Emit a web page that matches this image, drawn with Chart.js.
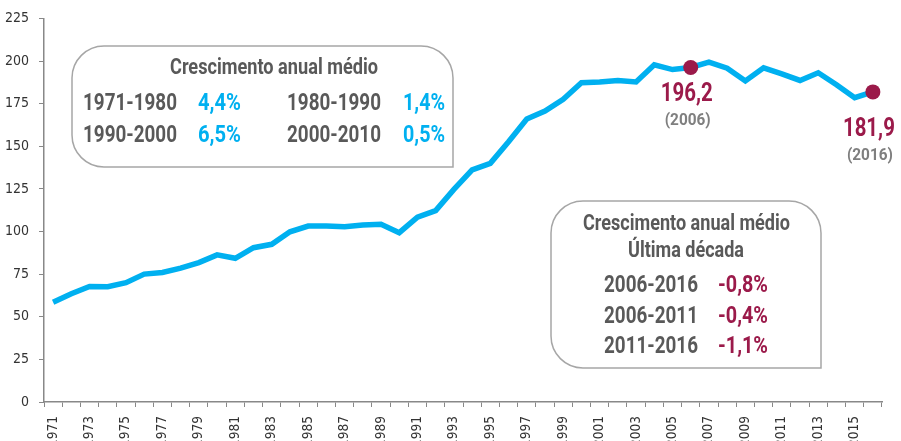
<!DOCTYPE html>
<html>
<head>
<meta charset="utf-8">
<script src="https://cdn.jsdelivr.net/npm/chart.js@4.4.1/dist/chart.umd.min.js"></script>
<style>
  html, body { margin: 0; padding: 0; background: #fff; }
  #wrap { width: 901px; height: 441px; }
</style>
</head>
<body>
<div id="wrap"><canvas id="grafico"></canvas></div>
<script>
const anos = [
  "1971", "1972", "1973", "1974", "1975", "1976", "1977", "1978", "1979", "1980",
  "1981", "1982", "1983", "1984", "1985", "1986", "1987", "1988", "1989", "1990",
  "1991", "1992", "1993", "1994", "1995", "1996", "1997", "1998", "1999", "2000",
  "2001", "2002", "2003", "2004", "2005", "2006", "2007", "2008", "2009", "2010",
  "2011", "2012", "2013", "2014", "2015", "2016",
];
const valores = [
  58.5, 63.5, 67.8, 67.6, 70.0, 75.0, 76.0, 78.5, 81.8, 86.3,
  84.3, 90.5, 92.5, 99.8, 103.2, 103.2, 102.8, 103.8, 104.2, 99.3,
  108.4, 112.3, 124.7, 136.2, 140.0, 152.7, 166.0, 170.6, 177.6, 187.3,
  187.7, 188.6, 187.7, 197.8, 195.0, 196.2, 199.3, 195.8, 188.3, 196.0,
  192.5, 188.6, 193.1, 186.1, 178.5, 181.9,
];
const destaques = ["2006", "2016"];

// caixa 1: crescimento por década
const decadas = ["1971-1980", "1980-1990", "1990-2000", "2000-2010"];
const taxasDecada = ["4,4%", "1,4%", "6,5%", "0,5%"];
// caixa 2: última década
const periodos = ["2006-2016", "2006-2011", "2011-2016"];
const taxasPeriodo = ["-0,8%", "-0,4%", "-1,1%"];

const AZUL = "#00b0f0";
const VINHO = "#9b1a4a";
const CINZA = "#595959";
const FONTE = "Roboto, sans-serif";
const FONTE_EIXO = '"DejaVu Sans Condensed", sans-serif';

// cantos arredondados menos o inferior direito
function caixa(ctx, x, y, w, h, r) {
  ctx.beginPath();
  ctx.moveTo(x + r, y);
  ctx.lineTo(x + w - r, y);
  ctx.arcTo(x + w, y, x + w, y + r, r);
  ctx.lineTo(x + w, y + h);
  ctx.lineTo(x + r, y + h);
  ctx.arcTo(x, y + h, x, y + h - r, r);
  ctx.lineTo(x, y + r);
  ctx.arcTo(x, y, x + r, y, r);
  ctx.closePath();
  ctx.fillStyle = "#fff";
  ctx.fill();
  ctx.strokeStyle = "#a6a6a6";
  ctx.lineWidth = 1.5;
  ctx.stroke();
}

// texto condensado: estica/encolhe na horizontal até a largura pedida
function texto(ctx, t, x, y, cor, tam, largura, centro) {
  ctx.save();
  ctx.font = `bold ${tam}px ${FONTE}`;
  ctx.fillStyle = cor;
  ctx.textAlign = "left";
  ctx.textBaseline = "alphabetic";
  const f = largura / ctx.measureText(t).width;
  ctx.translate(centro ? x - largura / 2 : x, y);
  ctx.scale(f, 1);
  ctx.fillText(t, 0, 0);
  ctx.restore();
}

const anotacoes = {
  id: "anotacoes",
  afterDatasetsDraw(chart) {
    const ctx = chart.ctx;
    const sx = chart.scales.x;
    const sy = chart.scales.y;

    // caixa superior esquerda
    caixa(ctx, 72, 46, 381, 121, 32);
    texto(ctx, "Crescimento anual médio", 274, 74, CINZA, 22, 208, true);
    const linhas1 = [110, 142];
    decadas.forEach((d, i) => {
      const y = linhas1[Math.floor(i / 2)];
      const col = i % 2;
      texto(ctx, d, col ? 287 : 83, y, CINZA, 23, 94);
      texto(ctx, taxasDecada[i], col ? 403 : 198, y, AZUL, 23, col ? 42 : 43);
    });

    // caixa inferior direita
    caixa(ctx, 551, 201, 270, 167, 32);
    texto(ctx, "Crescimento anual médio", 686.5, 230, CINZA, 22, 207, true);
    texto(ctx, "Última década", 686, 257, CINZA, 22, 116, true);
    periodos.forEach((p, i) => {
      const y = 292 + i * 30.5;
      texto(ctx, p, 604, y, CINZA, 23, 94);
      texto(ctx, taxasPeriodo[i], 718, y, VINHO, 23, 50);
    });

    // rótulos dos pontos destacados
    destaques.forEach((ano, k) => {
      const i = anos.indexOf(ano);
      const x = sx.getPixelForValue(i);
      const y = sy.getPixelForValue(valores[i]);
      const dy = k === 0 ? 33 : 44;
      texto(ctx, valores[i].toFixed(1).replace(".", ","), x - 4, y + dy, VINHO, 26, 52, true);
      texto(ctx, "(" + ano + ")", x - 3, y + dy + 24, "#7f7f7f", 17, 46, true);
    });
  },
};

const ctx = document.getElementById("grafico").getContext("2d");

new Chart(ctx, {
  type: "line",
  data: {
    labels: anos,
    datasets: [
      {
        data: valores,
        borderColor: AZUL,
        borderWidth: 5.5,
        pointRadius: (c) => (destaques.includes(anos[c.dataIndex]) ? 7.5 : 0),
        pointBackgroundColor: VINHO,
        pointBorderWidth: 0,
        tension: 0,
      },
    ],
  },
  options: {
    responsive: true,
    maintainAspectRatio: false,
    animation: false,
    layout: { padding: { top: 10, right: 19, left: 0, bottom: 0 } },
    plugins: {
      legend: { display: false },
      tooltip: { enabled: false },
    },
    scales: {
      x: {
        offset: true,
        grid: {
          offset: true,
          drawOnChartArea: false,
          drawTicks: true,
          tickLength: 5,
          color: "#888",
        },
        border: { color: "#888", width: 1.5 },
        ticks: {
          autoSkip: false,
          minRotation: 90,
          maxRotation: 90,
          color: "#333",
          font: { family: FONTE_EIXO, size: 13.5 },
          padding: 9,
          callback: function (v, i) {
            return i % 2 === 0 ? anos[i] : "";
          },
        },
        afterFit: (s) => { s.height = 39; },
      },
      y: {
        min: 0,
        max: 225,
        grid: {
          drawOnChartArea: false,
          drawTicks: true,
          tickLength: 5,
          color: "#888",
        },
        border: { color: "#888", width: 1.5 },
        ticks: {
          stepSize: 25,
          color: "#333",
          font: { family: FONTE_EIXO, size: 14 },
          padding: 10,
        },
        afterFit: (s) => { s.width = 44; },
      },
    },
  },
  plugins: [anotacoes],
});
</script>
</body>
</html>
